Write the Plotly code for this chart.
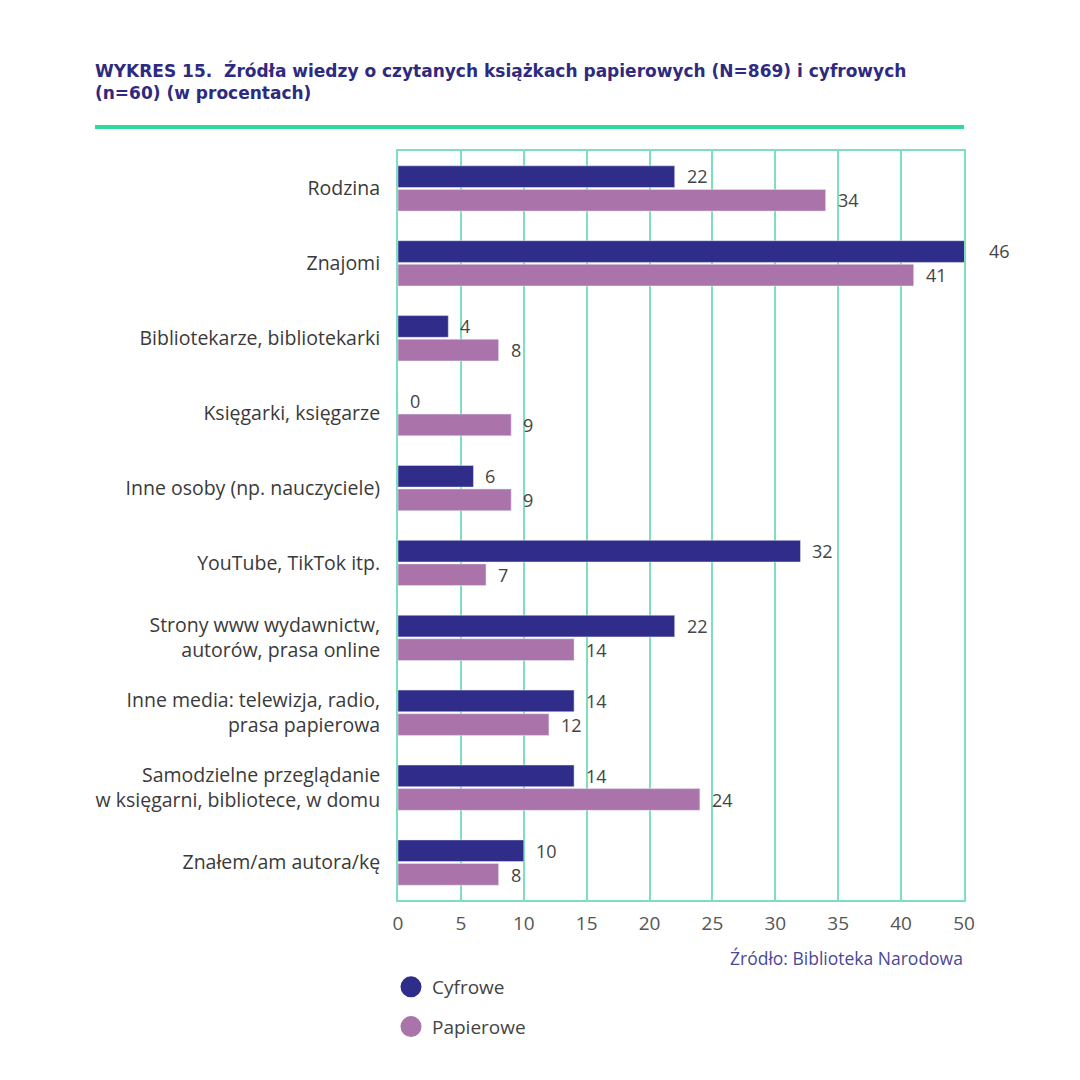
import plotly.graph_objects as go

categories = [
    "Rodzina",
    "Znajomi",
    "Bibliotekarze, bibliotekarki",
    "Księgarki, księgarze",
    "Inne osoby (np. nauczyciele)",
    "YouTube, TikTok itp.",
    "Strony www wydawnictw,<br>autorów, prasa online",
    "Inne media: telewizja, radio,<br>prasa papierowa",
    "Samodzielne przeglądanie<br>w księgarni, bibliotece, w domu",
    "Znałem/am autora/kę",
]
cyfrowe = [22, 46, 4, 0, 6, 32, 22, 14, 14, 10]
papierowe = [34, 41, 8, 9, 9, 7, 14, 12, 24, 8]

tick_vals = [0, 5, 10, 15, 20, 25, 30, 35, 40, 45]
tick_text = ["0", "5", "10", "15", "20", "25", "30", "35", "40", "50"]
X_MAX = 45

C_CYF = "#302d8a"
C_PAP = "#aa74ab"
MINT = "#7ddfc0"
FONT = "Open Sans"

# plot area in page pixels (page has ~8px body offset)
L, T, W, H = 390, 143, 566, 749


def px(xp):
    return (xp - 8 - L) / W


def py(yp):
    return (T + H - (yp - 8)) / H


fig = go.Figure()
fig.add_trace(go.Bar(
    y=categories, x=cyfrowe, orientation="h", name="Cyfrowe",
    marker=dict(color=C_CYF), showlegend=False,
))
fig.add_trace(go.Bar(
    y=categories, x=papierowe, orientation="h", name="Papierowe",
    marker=dict(color=C_PAP), showlegend=False,
))
# legend entries with circular markers
for nm, col in [("Cyfrowe", C_CYF), ("Papierowe", C_PAP)]:
    fig.add_trace(go.Scatter(
        x=[None], y=[None], mode="markers", name=nm, legendgroup=nm,
        marker=dict(color=col, size=16, symbol="circle", line=dict(color=col, width=5)),
    ))

# value labels next to bar ends (x in axis-domain units so labels beyond the range stay visible)
for series, shift in [(cyfrowe, 12), (papierowe, -12)]:
    for cat, v in zip(categories, series):
        fig.add_annotation(
            x=v / X_MAX, y=cat, xref="x domain", yref="y", text=str(v), showarrow=False,
            xanchor="left", yanchor="middle", xshift=10, yshift=shift,
            font=dict(family=FONT, size=18, color="#444"),
        )

fig.update_layout(
    width=1080, height=1080,
    paper_bgcolor="white", plot_bgcolor="white",
    margin=dict(l=L, r=1080 - L - W, t=T, b=1080 - T - H, autoexpand=False),
    barmode="group", bargap=0.37, bargroupgap=0.08,
    font=dict(family=FONT, color="#333"),
    xaxis=dict(
        range=[0, X_MAX], tickvals=tick_vals, ticktext=tick_text,
        showgrid=True, gridcolor=MINT, gridwidth=2,
        zeroline=False, showline=True, mirror=True, linecolor=MINT, linewidth=2,
        tickfont=dict(family=FONT, size=19, color="#555"), ticks="", ticklabelstandoff=5,
    ),
    yaxis=dict(
        autorange="reversed", showgrid=False, zeroline=False,
        showline=True, mirror=True, linecolor=MINT, linewidth=2,
        tickfont=dict(family=FONT, size=19.5, color="#3a3a3a"), ticks="", ticklabelstandoff=12,
    ),
    legend=dict(
        x=px(390), xanchor="left", y=py(968), yanchor="top",
        font=dict(family=FONT, size=19, color="#444"),
        tracegroupgap=12, itemwidth=32, bgcolor="rgba(0,0,0,0)",
    ),
    showlegend=True,
)

fig.add_annotation(
    xref="paper", yref="paper", x=px(93), y=py(58),
    xanchor="left", yanchor="top", align="left", showarrow=False,
    text="<b>WYKRES 15.  Źródła wiedzy o czytanych książkach papierowych (N=869) i cyfrowych<br>(n=60) (w procentach)</b>",
    font=dict(family="DejaVu Sans", size=17, color="#2e2a80"),
)
fig.add_shape(
    type="line", xref="paper", yref="paper",
    x0=px(95), x1=px(964), y0=py(127), y1=py(127),
    line=dict(color="#2edb98", width=4),
)
fig.add_annotation(
    xref="paper", yref="paper", x=px(965), y=py(958),
    xanchor="right", yanchor="middle", showarrow=False,
    text="Źródło: Biblioteka Narodowa",
    font=dict(family=FONT, size=17.5, color="#4a4899"),
)

fig.write_html("out.html")
